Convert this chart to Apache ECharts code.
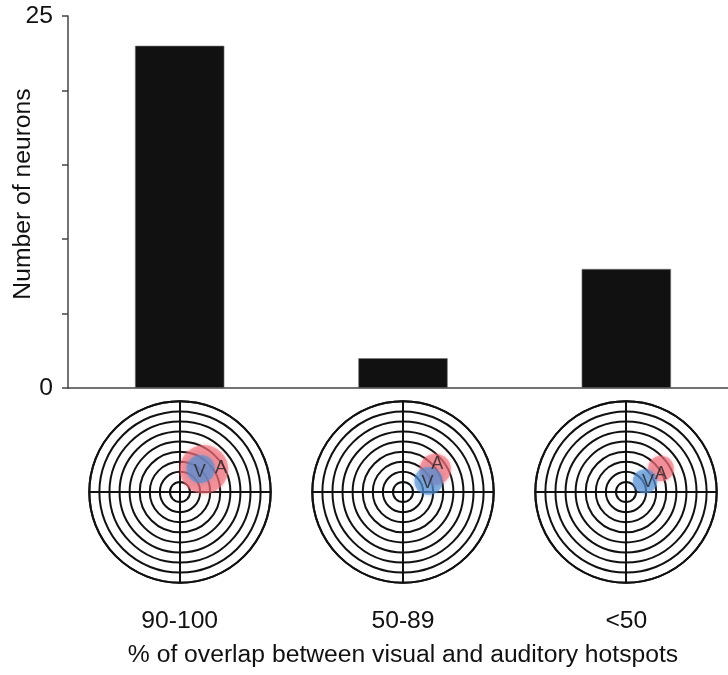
<!DOCTYPE html>
<html>
<head>
<meta charset="utf-8">
<script src="https://cdn.jsdelivr.net/npm/echarts@6/dist/echarts.min.js"></script>
<style>
  html, body { margin: 0; padding: 0; background: #fff; }
  #chart { width: 728px; height: 675px; }
</style>
</head>
<body>
<div id="chart"></div>
<script>
// Overlap categories and neuron counts
const categories = ['90-100', '50-89', '<50'];
const neuronCounts = [23, 2, 8];
const yTickLabels = [0, 25];
const yTitle = 'Number of neurons';

// Example hotspots per category, in ring units: [radius, angle (deg), extent]
const auditoryHotspots = [[3.28, 43.4, 2.4], [3.92, 35.1, 1.55], [4.18, 33.8, 1.27]];
const visualHotspots   = [[3.07, 48.0, 1.4], [2.76, 23.3, 1.4], [2.16, 29.4, 1.2]];
const ringCount = 9;

const FONT = 'Liberation Sans, Arial, sans-serif';
const TARGET_R = 90.7;
const ringPx = TARGET_R / ringCount;
const targetCenters = [[180, 492], [403, 492], [626, 492]];

// label nudges for the V / A letters
const aLabelOffsets = [[17, -1], [2, -5], [0, 5]];
const vLabelOffsets = [[-1, 3], [-1, 2], [3, 1]];

const polar = targetCenters.map(c => ({ center: c, radius: TARGET_R }));
const radiusAxis = targetCenters.map((c, i) => ({
  polarIndex: i, type: 'value', min: 0, max: ringCount, interval: 1,
  axisLine: { show: false }, axisTick: { show: false }, axisLabel: { show: false },
  splitLine: { show: true, lineStyle: { color: '#111', width: 2 } }
}));
const angleAxis = targetCenters.map((c, i) => ({
  polarIndex: i, type: 'value', min: 0, max: 360, interval: 90,
  startAngle: 0, clockwise: false,
  axisLine: { show: true, lineStyle: { color: '#111', width: 2 } },
  axisTick: { show: false }, axisLabel: { show: false },
  splitLine: { show: true, lineStyle: { color: '#111', width: 2 } }
}));

function hotspotSeries(list, color, letter, offsets) {
  return list.map((h, i) => ({
    type: 'scatter', coordinateSystem: 'polar', polarIndex: i,
    data: [h], symbol: 'circle',
    symbolSize: v => v[2] * 2 * ringPx,
    silent: true,
    itemStyle: { color: color, shadowBlur: 4, shadowColor: color },
    label: {
      show: true, formatter: letter, position: 'inside',
      offset: offsets[i], color: '#222', fontSize: 18, fontFamily: FONT
    },
    z: 3
  }));
}

const chart = echarts.init(document.getElementById('chart'), null, { renderer: 'canvas' });
chart.setOption({
  animation: false,
  backgroundColor: '#fff',
  grid: { left: 68, top: 16, width: 670, height: 372, containLabel: false, outerBoundsMode: 'none' },
  xAxis: {
    type: 'category', data: categories,
    axisLine: { show: true, lineStyle: { color: '#444', width: 1.5 } },
    axisTick: { show: false },
    axisLabel: { margin: 233, verticalAlign: 'middle', fontSize: 24.7, color: '#111', fontFamily: FONT },
    name: '% of overlap between visual and auditory hotspots',
    nameLocation: 'middle', nameGap: 267,
    nameTextStyle: { fontSize: 24.7, color: '#111', fontFamily: FONT, verticalAlign: 'middle' }
  },
  yAxis: {
    type: 'value', min: 0, max: 25, interval: 5,
    axisLine: { show: true, lineStyle: { color: '#444', width: 1.5 } },
    axisTick: { show: true, length: 6, lineStyle: { color: '#444', width: 1.5 } },
    splitLine: { show: false },
    axisLabel: {
      margin: 15, fontSize: 24.7, color: '#111', fontFamily: FONT,
      formatter: v => (yTickLabels.includes(v) ? String(v) : '')
    }
  },
  graphic: [{
    type: 'text', x: 23, y: 194, rotation: Math.PI / 2,
    style: {
      text: yTitle, fontSize: 24.7, fontFamily: FONT, fill: '#111',
      textAlign: 'center', textVerticalAlign: 'middle'
    }
  }],
  polar: polar,
  radiusAxis: radiusAxis,
  angleAxis: angleAxis,
  series: [
    {
      type: 'bar', data: neuronCounts, barWidth: '40%',
      itemStyle: { color: '#111', borderColor: '#777', borderWidth: 0.6 },
      silent: true
    },
    ...hotspotSeries(auditoryHotspots, 'rgba(238,105,118,0.72)', 'A', aLabelOffsets),
    ...hotspotSeries(visualHotspots, 'rgba(80,140,210,0.72)', 'V', vLabelOffsets)
  ]
});
</script>
</body>
</html>
